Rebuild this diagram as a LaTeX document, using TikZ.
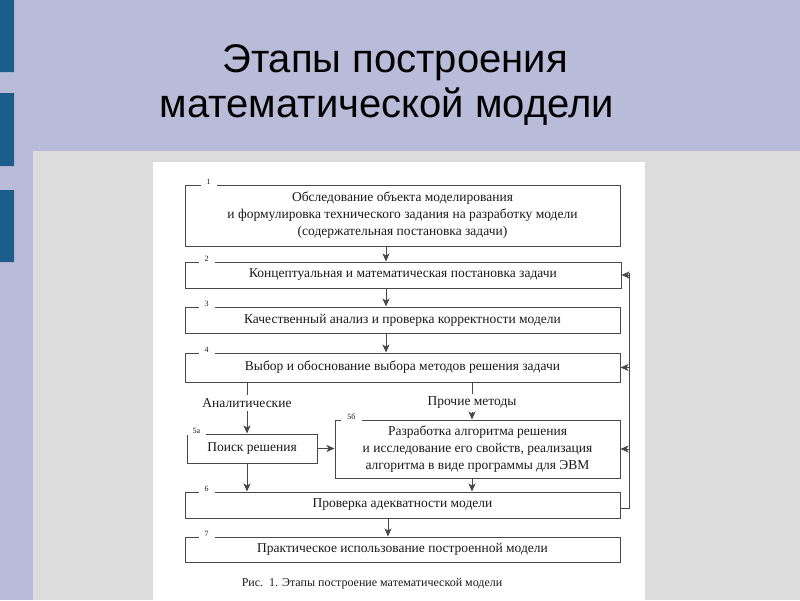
\documentclass[tikz,border=0pt]{standalone}
\usepackage{fontspec}
\setmainfont{Liberation Serif}
\newfontfamily\titlefont{Liberation Sans}
\usetikzlibrary{arrows.meta}
\definecolor{slidebg}{HTML}{B9BCD9}
\definecolor{panelgray}{HTML}{DCDCDC}
\definecolor{barblue}{HTML}{1C5D8C}
\definecolor{ink}{HTML}{1A1A1A}

\begin{document}
\begin{tikzpicture}[x=1pt,y=-1pt,>={Stealth[length=8pt,width=7pt,inset=2pt]},line width=1pt,
  main node/.style={rectangle,draw=ink!80,fill=white,inner sep=0pt,align=center,minimum width=435pt,text=ink,font=\fontsize{13.5}{17}\selectfont},
  num node/.style={fill=white,inner xsep=6pt,inner ysep=1pt,text=ink,font=\fontsize{8}{8}\selectfont},
  way node/.style={inner sep=3pt,text=ink,font=\fontsize{13.5}{15}\selectfont}]
  \useasboundingbox (0,0) rectangle (800,600);
  % slide
  \fill[slidebg] (0,0) rectangle (800,600);
  \fill[barblue] (0,0) rectangle (14,72) (0,93) rectangle (14,166) (0,190) rectangle (14,262);
  \fill[panelgray] (33,151) rectangle (800,600);
  \fill[white] (153,162) rectangle (645,600);
  \node[anchor=base,font=\titlefont\fontsize{40}{40}\selectfont] (t1) at (395,72) {Этапы построения};
  \node[anchor=base,font=\titlefont\fontsize{40}{40}\selectfont] (t2) at (387,117) {математической модели};

  % stages
  \node[main node,minimum height=61pt] (1) at (402.5,215.5) {Обследование объекта моделирования\\и формулировка технического задания на разработку модели\\(содержательная постановка задачи)};
  \node[main node,minimum height=26pt,minimum width=436pt] (2) at (403,275) {Концептуальная и математическая постановка задачи};
  \node[main node,minimum height=26pt] (3) at (402.5,320) {Качественный анализ и проверка корректности модели};
  \node[main node,minimum height=29pt] (4) at (402.5,367.5) {Выбор и обоснование выбора методов решения задачи};
  \node[main node,minimum height=29pt,minimum width=130pt] (5a) at (252,448.5) {Поиск решения};
  \node[main node,minimum height=58pt,minimum width=285pt] (5b) at (477.5,449) {Разработка алгоритма решения\\и исследование его свойств, реализация\\алгоритма в виде программы для ЭВМ};
  \node[main node,minimum height=26pt] (6) at (402.5,505) {Проверка адекватности модели};
  \node[main node,minimum height=25pt] (7) at (402.5,549.5) {Практическое использование построенной модели};

  \node[num node] (n1) at ([xshift=24pt,yshift=2.5pt]1.north west) {1};
  \node[num node] (n2) at ([xshift=22pt,yshift=2.5pt]2.north west) {2};
  \node[num node] (n3) at ([xshift=22pt,yshift=2.5pt]3.north west) {3};
  \node[num node] (n4) at ([xshift=22pt,yshift=2.5pt]4.north west) {4};
  \node[num node] (n5a) at ([xshift=10pt,yshift=2.5pt]5a.north west) {5а};
  \node[num node] (n5b) at ([xshift=17pt,yshift=2.5pt]5b.north west) {5б};
  \node[num node] (n6) at ([xshift=22pt,yshift=2.5pt]6.north west) {6};
  \node[num node] (n7) at ([xshift=22pt,yshift=2.5pt]7.north west) {7};

  \node[way node] (an) at (247,403) {Аналитические};
  \node[way node] (pm) at (472,403) {Прочие методы};
  \node[font=\fontsize{12}{12}\selectfont,text=ink] (cap) at (372,584) {Рис.~~1. Этапы построение математической модели};

  \coordinate (mid) at (386,0);
  \coordinate (mid2) at (388,0);
  \coordinate (back) at (629,0);

  \draw[ink!80] (4.south -| an) -- (an.north);
  \draw[ink!80] (4.south -| pm) -- (pm.north);
  \draw[ink!80] ([yshift=-3pt]6.east) -| ([yshift=2pt]back |- 2.east);

\path[every edge/.style={draw=ink!80,->}]
  (1.south -| mid) edge (2.north -| mid)
  (2.south -| mid) edge (3.north -| mid)
  (3.south -| mid) edge (4.north -| mid)
  (an.south) edge (5a.north -| an)
  (pm.south) edge (5b.north -| pm)
  (5a.east) edge (5a.east -| 5b.west)
  (5a.south -| an) edge (6.north -| an)
  (5b.south -| pm) edge (6.north -| pm)
  (6.south -| mid2) edge (7.north -| mid2)
  (back |- 2.east) edge (2.east)
  (back |- 4.east) edge (4.east)
  (back |- 5b.east) edge (5b.east)
;
\end{tikzpicture}
\end{document}
